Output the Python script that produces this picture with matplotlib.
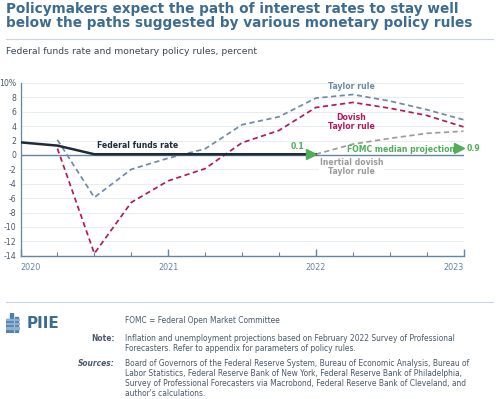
"""
Policy rules vs. federal funds rate chart (PIIE style).
"""

import matplotlib
matplotlib.use('Agg')

import matplotlib.pyplot as plt
import matplotlib.transforms as mtransforms
from matplotlib.patches import Rectangle

plt.rcParams["font.family"] = "DejaVu Sans"

# --- data (quarters as fractional years) ---
ffr_dates = [2020.0, 2020.25, 2020.5, 2020.75, 2021.0, 2021.25, 2021.5, 2021.75, 2022.0]
ffr_values = [1.75, 1.3, 0.1, 0.1, 0.1, 0.1, 0.1, 0.1, 0.1]

rule_dates = [2020.25, 2020.5, 2020.75, 2021.0, 2021.25, 2021.5,
              2021.75, 2022.0, 2022.25, 2022.5, 2022.75, 2023.0]
taylor = [2.1, -5.9, -2.0, -0.45, 0.85, 4.2, 5.3, 7.9, 8.4, 7.5, 6.3, 4.9]
dovish = [0.9, -13.7, -6.6, -3.6, -1.9, 1.7, 3.4, 6.6, 7.3, 6.5, 5.5, 3.9]

inertial_dates = [2022.0, 2022.25, 2022.5, 2022.75, 2023.0]
inertial = [0.1, 1.5, 2.3, 3.0, 3.3]

fomc_dates = [2022.0, 2023.0]
fomc_values = [0.1, 0.9]

y_ticks = [10, 8, 6, 4, 2, 0, -2, -4, -6, -8, -10, -12, -14]
y_labels = ["10%"] + [str(v) for v in y_ticks[1:]]
year_ticks = [2020, 2021, 2022, 2023]

# --- colours ---
C_TITLE = "#3d6c93"
C_TEXT = "#4a5a6a"
C_AXIS = "#6583a2"
C_GRID = "#e9edf0"
C_FFR = "#1f2b38"
C_TAYLOR = "#6f8aa6"
C_DOVISH = "#b31a5c"
C_INERT = "#9c9c9c"
C_FOMC = "#4fae57"

W, H = 500, 399
fig = plt.figure(figsize=(W / 100, H / 100), dpi=100)


def fx(px):
    return px / W


def fy(py):
    return 1 - py / H


# header
fig.text(fx(6), fy(2), "Policymakers expect the path of interest rates to stay well\n"
         "below the paths suggested by various monetary policy rules",
         fontsize=9.8, fontweight="bold", color=C_TITLE, va="top", ha="left",
         linespacing=1.0)
fig.add_artist(plt.Line2D([fx(6), fx(493)], [fy(39), fy(39)], color="#c9d5e0", lw=0.8))
fig.text(fx(6), fy(52), "Federal funds rate and monetary policy rules, percent",
         fontsize=6.7, color="#3a4856", va="center", ha="left")

# plot area
ax = fig.add_axes([fx(20.5), fy(255.7), fx(463.5) - fx(20.5), fy(83) - fy(255.7)])
ax.set_xlim(2020, 2023)
ax.set_ylim(-14, 10)

for v in y_ticks:
    if v != 0:
        ax.axhline(v, color=C_GRID, lw=0.8, zorder=0)
ax.axhline(0, color=C_AXIS, lw=1.0, zorder=1)

dash = (0, (3, 2))
ax.plot(rule_dates, taylor, color=C_TAYLOR, lw=1.25, ls=dash, zorder=3)
ax.plot(rule_dates, dovish, color=C_DOVISH, lw=1.25, ls=dash, zorder=3)
ax.plot(inertial_dates, inertial, color=C_INERT, lw=1.25, ls=dash, zorder=3)
ax.plot(ffr_dates, ffr_values, color=C_FFR, lw=1.8, zorder=4)

# FOMC markers, tip on the date
shift = mtransforms.offset_copy(ax.transData, fig=fig, x=-4.5, y=0, units="dots")
ax.plot(fomc_dates, fomc_values, ls="none", marker=">", ms=7, color=C_FOMC,
        transform=shift, zorder=5, clip_on=False)

# spines / ticks
for side in ["top", "right"]:
    ax.spines[side].set_visible(False)
ax.spines["left"].set_color(C_AXIS)
ax.spines["bottom"].set_color(C_AXIS)
ax.spines["left"].set_linewidth(0.9)
ax.spines["bottom"].set_linewidth(1.0)

ax.set_yticks(y_ticks)
ax.set_yticklabels(y_labels)
ax.tick_params(axis="y", length=0, pad=3, labelsize=5.6, labelcolor=C_TEXT)

ax.set_xticks(year_ticks)
ax.set_xticklabels([str(y) for y in year_ticks])
ax.set_xticks([2020.25, 2020.5, 2020.75, 2021.25, 2021.5, 2021.75,
               2022.25, 2022.5, 2022.75], minor=True)
ax.tick_params(axis="x", which="major", direction="in", length=5, width=1.0,
               color=C_AXIS, labelsize=5.8, labelcolor=C_AXIS, pad=5)
ax.tick_params(axis="x", which="minor", direction="in", length=3, width=0.8,
               color=C_AXIS)
labels = ax.get_xticklabels()
labels[0].set_ha("left")
labels[-1].set_ha("right")

# series labels
lab = dict(fontsize=5.6, fontweight="bold", zorder=6)
ax.text(2020.52, 1.25, "Federal funds rate", color=C_FFR, ha="left", va="center",
        **lab)
ax.text(2022.24, 9.5, "Taylor rule", color=C_TAYLOR, ha="center", va="center", **lab)
ax.text(2022.24, 4.6, "Dovish\nTaylor rule", color=C_DOVISH, ha="center",
        va="center", linespacing=1.0, **lab)
ax.text(2022.24, -1.7, "Inertial dovish\nTaylor rule", color=C_INERT, ha="center",
        va="center", linespacing=1.0,
        bbox=dict(facecolor="white", edgecolor="none", pad=0.5), **lab)
ax.text(2022.58, 0.75, "FOMC median projection", color=C_FOMC, ha="center",
        va="center", **lab)
ax.text(2021.92, 1.2, "0.1", color=C_FOMC, ha="right", va="center", **lab)
ax.text(2023.02, 0.95, "0.9", color=C_FOMC, ha="left", va="center",
        clip_on=False, **lab)

# footer
fig.add_artist(plt.Line2D([fx(6), fx(493)], [fy(302), fy(302)], color="#c9d5e0", lw=0.8))

# logo: little building + PIIE
logo = fig.add_axes([fx(6), fy(333), fx(14), fy(313) - fy(333)])
logo.set_xlim(0, 10)
logo.set_ylim(0, 14)
logo.axis("off")
for x0, h in [(0, 9), (3, 13), (6.5, 10)]:
    logo.add_patch(Rectangle((x0, 1), 2.2, h, color="#4f7fae"))
for yy in [3, 6, 9]:
    logo.add_patch(Rectangle((0, yy), 9, 0.9, color="#8fb0cf"))
fig.text(fx(27), fy(323), "PIIE", fontsize=11, fontweight="bold", color="#3d6c93",
         va="center", ha="left")

small = dict(fontsize=5.45, color=C_TEXT, va="top", linespacing=1.15)
fig.text(fx(125), fy(316), "FOMC = Federal Open Market Committee", ha="left", **small)
fig.text(fx(115), fy(334), "Note:", ha="right", fontweight="bold", **small)
fig.text(fx(125), fy(334),
         "Inflation and unemployment projections based on February 2022 Survey of Professional\n"
         "Forecasters. Refer to appendix for parameters of policy rules.", ha="left", **small)
fig.text(fx(115), fy(359), "Sources:", ha="right", fontweight="bold", style="italic", **small)
fig.text(fx(125), fy(359),
         "Board of Governors of the Federal Reserve System, Bureau of Economic Analysis, Bureau of\n"
         "Labor Statistics, Federal Reserve Bank of New York, Federal Reserve Bank of Philadelphia,\n"
         "Survey of Professional Forecasters via Macrobond, Federal Reserve Bank of Cleveland, and\n"
         "author's calculations.", ha="left", **small)

fig.savefig("out.png", dpi=100)
